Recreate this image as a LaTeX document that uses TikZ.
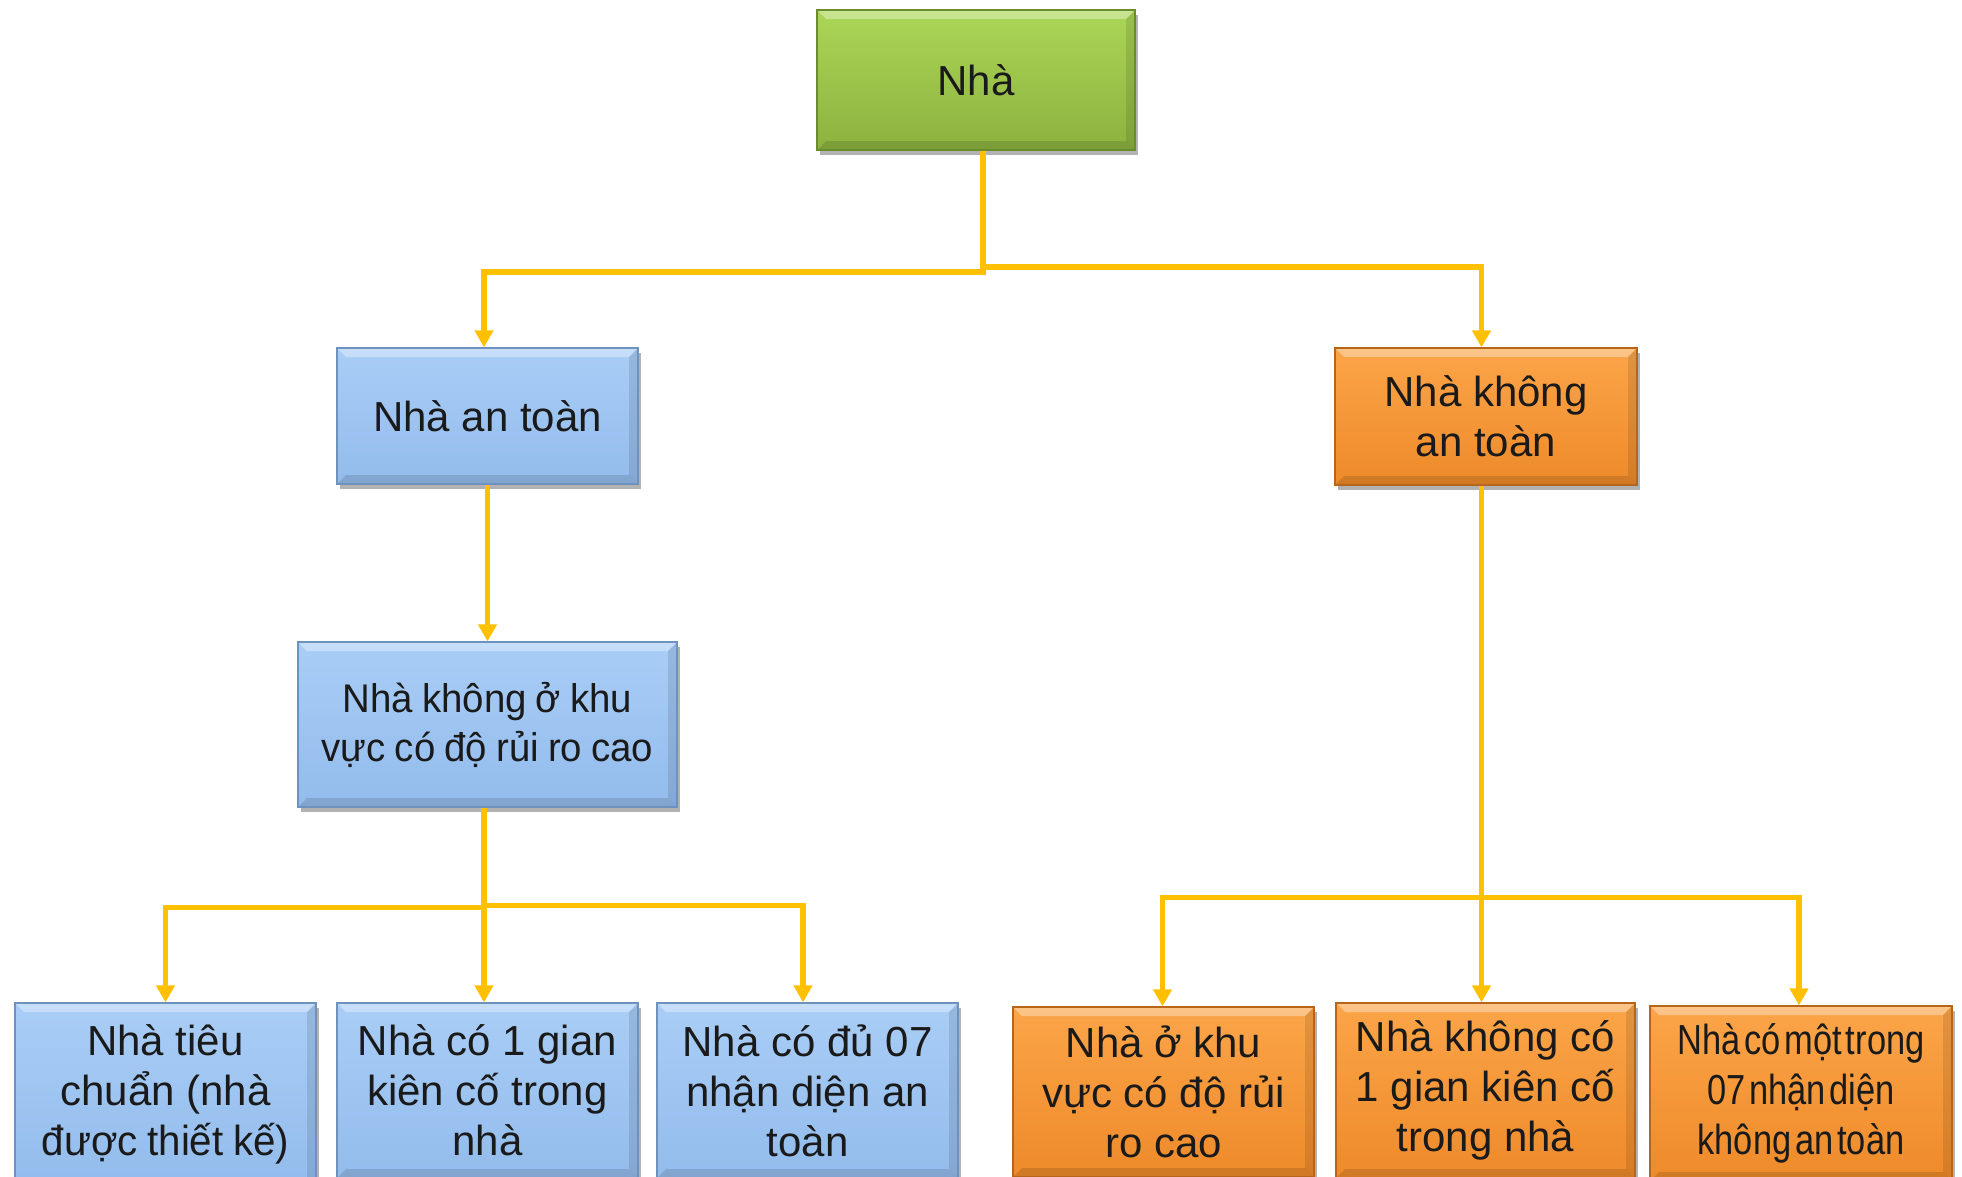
\documentclass[tikz,border=0pt]{standalone}
\usepackage{fontspec}
\setmainfont{Liberation Sans}
\newfontfamily\narrowfont[FakeStretch=0.82,WordSpace=0.4]{Liberation Sans}
\newfontfamily\slimfont[FakeStretch=0.96,WordSpace=0.85]{Liberation Sans}
\usetikzlibrary{arrows.meta,shadows}
\definecolor{linegold}{HTML}{FFC000}
\definecolor{txt}{HTML}{1A1A1A}
\definecolor{gTop}{HTML}{ABD656}
\definecolor{gBot}{HTML}{8DB23F}
\definecolor{gDraw}{HTML}{6B8C2C}
\definecolor{bTop}{HTML}{A9CDF6}
\definecolor{bBot}{HTML}{93BCEC}
\definecolor{bDraw}{HTML}{6E92BE}
\definecolor{oTop}{HTML}{FBA548}
\definecolor{oBot}{HTML}{EE8A2A}
\definecolor{oDraw}{HTML}{B8651C}
\tikzset{
  box/.style={rectangle, inner sep=0pt, align=center, text=txt,
    font=\fontsize{42}{50}\selectfont, line width=1.2pt,
    drop shadow={shadow xshift=3pt, shadow yshift=-5pt, opacity=0.3, fill=black},
    path picture={
      \fill[white,opacity=0.35] (path picture bounding box.north west) -- (path picture bounding box.north east)
        -- ([xshift=-9pt,yshift=-9pt]path picture bounding box.north east) -- ([xshift=9pt,yshift=-9pt]path picture bounding box.north west) -- cycle;
      \fill[black,opacity=0.12] (path picture bounding box.south west) -- (path picture bounding box.south east)
        -- ([xshift=-9pt,yshift=9pt]path picture bounding box.south east) -- ([xshift=9pt,yshift=9pt]path picture bounding box.south west) -- cycle;
      \fill[black,opacity=0.10] (path picture bounding box.north east) -- (path picture bounding box.south east)
        -- ([xshift=-9pt,yshift=9pt]path picture bounding box.south east) -- ([xshift=-9pt,yshift=-9pt]path picture bounding box.north east) -- cycle;
    }},
  greenbox/.style={box, top color=gTop, bottom color=gBot, draw=gDraw},
  bluebox/.style={box, top color=bTop, bottom color=bBot, draw=bDraw},
  orangebox/.style={box, top color=oTop, bottom color=oBot, draw=oDraw},
  link/.style={draw=linegold, line width=5.5pt,
    -{Triangle[length=17pt,width=18pt]}}
}
\begin{document}
\begin{tikzpicture}[x=1pt,y=-1pt]
\useasboundingbox (0,0) rectangle (1962,1176);
\clip (0,0) rectangle (1962,1176);
% nodes
\node[greenbox, minimum width=318pt, minimum height=140pt] (nha) at (976,80) {Nhà};
\node[bluebox, minimum width=301pt, minimum height=136pt] (at) at (487.5,416) {Nhà an toàn};
\node[orangebox, minimum width=302pt, minimum height=137pt] (kat) at (1486,416.5) {Nhà không\\an toàn};
\node[bluebox, minimum width=379pt, minimum height=165pt, font=\slimfont\fontsize{40}{49}\selectfont] (kk) at (487.5,724.5) {Nhà không ở khu\\vực có độ rủi ro cao};
\node[bluebox, minimum width=301pt, minimum height=183pt] (b1) at (165.5,1094.5) {Nhà tiêu\\chuẩn (nhà\\{\slimfont được thiết kế)}};
\node[bluebox, minimum width=301pt, minimum height=175pt] (b2) at (487.5,1090.5) {Nhà có 1 gian\\kiên cố trong\\nhà};
\node[bluebox, minimum width=301pt, minimum height=175pt] (b3) at (807.5,1090.5) {Nhà có đủ 07\\nhận diện an\\toàn};
\node[orangebox, minimum width=301pt, minimum height=170pt] (b4) at (1163.5,1092) {Nhà ở khu\\vực có độ rủi\\ro cao};
\node[orangebox, minimum width=299pt, minimum height=175pt] (b5) at (1485.5,1090.5) {Nhà không có\\1 gian kiên cố\\trong nhà};
\node[orangebox, minimum width=302pt, minimum height=175pt, font=\narrowfont\fontsize{42}{50}\selectfont] (b6) at (1801,1093.5) {Nhà có một trong\\07 nhận diện\\không an toàn};
% connectors
\draw[link] ([xshift=7pt]nha.south) -- ++(0,121.5) -| ([xshift=-3.5pt]at.north);
\draw[link] ([xshift=7pt]nha.south) -- ++(0,116.5) -| ([xshift=-4.5pt]kat.north);
\draw[link] (at.south) -- (kk.north);
\draw[link] ([xshift=-3.5pt]kk.south) -- ++(0,100) -| (b1.north);
\draw[link] ([xshift=-3.5pt]kk.south) -- ([xshift=-3.5pt]b2.north);
\draw[link] ([xshift=-3.5pt]kk.south) -- ++(0,98) -| ([xshift=-4.5pt]b3.north);
\draw[link] ([xshift=-4.5pt]kat.south) -- ++(0,412) -| ([xshift=-1pt]b4.north);
\draw[link] ([xshift=-4.5pt]kat.south) -- ([xshift=-4pt]b5.north);
\draw[link] ([xshift=-4.5pt]kat.south) -- ++(0,412) -| ([xshift=-2pt]b6.north);
\end{tikzpicture}
\end{document}
